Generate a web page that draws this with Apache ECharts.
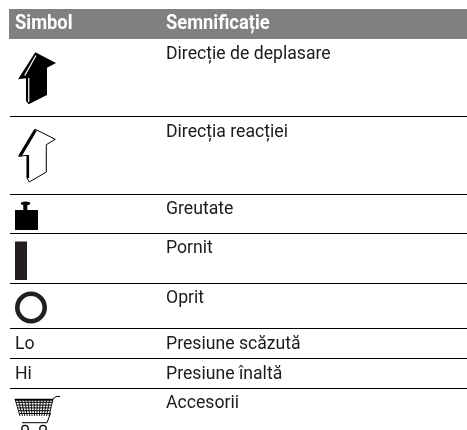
<!DOCTYPE html>
<html><head><meta charset="utf-8">
<style>html,body{margin:0;padding:0;background:#fff}#c{width:467px;height:430px}</style>
<script src="https://cdn.jsdelivr.net/npm/echarts@6/dist/echarts.min.js"></script>
</head><body><div id="c"></div>
<script>
const headers = ["Simbol", "Semnificație"];
const meanings = ["Direcție de deplasare", "Direcția reacției", "Greutate", "Pornit", "Oprit", "Presiune scăzută", "Presiune înaltă", "Accesorii"];
const symbolLabels = ["", "", "", "", "", "Lo", "Hi", ""];

// layout of the table (pixels)
const rowBottoms = [116, 194, 233, 283, 328, 358, 388];
const textY = [54.5, 132, 209, 248, 298, 344.5, 374, 403];
const colX = [15, 166];
const FONT = 'Roboto, sans-serif';
const INK = '#1c1a1b';

const g = [];
function text(s, x, y, size, color, weight, sx) {
  g.push({type:'text', x:x, y:y, scaleX:sx, style:{text:s, x:0, y:0, fill:color, font:(weight||'normal')+' '+size+'px '+FONT, textVerticalAlign:'middle', textAlign:'left'}});
}
function poly(points, fill, stroke, lw) {
  g.push({type:'polygon', shape:{points:points}, style:{fill:fill||'none', stroke:stroke||'none', lineWidth:lw||0}});
}
function line(points, stroke, lw) {
  g.push({type:'polyline', shape:{points:points}, style:{fill:'none', stroke:stroke, lineWidth:lw}});
}

// header
g.push({type:'rect', shape:{x:9, y:9, width:458, height:30}, style:{fill:'#808080'}});
text(headers[0], colX[0], 24, 19.5, '#fff', 'bold', 0.94);
text(headers[1], colX[1], 24, 19.5, '#fff', 'bold', 0.94);

// rules
rowBottoms.forEach(y => g.push({type:'line', shape:{x1:10, y1:y+0.5, x2:467, y2:y+0.5}, style:{stroke:'#000', lineWidth:1}}));

// text
meanings.forEach((m, i) => text(m, colX[1], textY[i], 18, INK, 'normal', 0.98));
symbolLabels.forEach((m, i) => { if (m) text(m, colX[0], textY[i], 18, INK, 'normal', 0.98); });

// direction arrow (filled)
poly([[35.3,52.3],[56,63],[47,67.7],[47,95],[28.7,104.3],[26,101],[26,78.3],[18,79.3]], '#000');
line([[36,55.5],[24.7,75.5]], '#eee', 1.4);
line([[28.7,78],[28.7,102]], '#ddd', 1.4);

// reaction arrow (outline)
poly([[35.3,129.3],[55.3,139.3],[46.3,144.7],[46.3,172],[29.3,182],[27,178],[27,155.3],[18.7,156.3]], '#fff', '#000', 1);
line([[35.5,130],[20,156]], '#000', 3.2);
line([[28,155],[28,178]], '#000', 2.2);

// weight
g.push({type:'rect', shape:{x:15, y:210, width:23, height:20}, style:{fill:'#000'}});
g.push({type:'rect', shape:{x:23.3, y:204, width:4, height:6}, style:{fill:'#000'}});
g.push({type:'ellipse', shape:{cx:25.5, cy:203.5, rx:4.8, ry:1.9}, style:{fill:'#000'}});

// on
g.push({type:'rect', shape:{x:15, y:241.5, width:12, height:38.5}, style:{fill:'#231f20'}});

// off
g.push({type:'circle', shape:{cx:31, cy:307.5, r:13.7}, style:{fill:'none', stroke:'#231f20', lineWidth:4.6}});

// cart
const cartTop = 399.5, cartBottom = 416;
poly([[15,399],[53,399],[49,416],[20,416]], '#fff');
line([[15,399.7],[53,399.7]], '#000', 2);
for (let i = 1; i <= 5; i++) { const y = cartTop + i*2.8; const t = (y-399)/17;
  line([[15+5*t,y],[53-4*t,y]], '#000', 1); }
for (let i = 0; i <= 12; i++) { const f = i/12;
  line([[15+38*f,399],[20+29*f,416]], '#000', 0.9); }
line([[53,399],[56,396.5],[60,396.5]], '#000', 1);
line([[50.6,413],[47,422.7],[22,422.7]], '#000', 1);
g.push({type:'circle', shape:{cx:25, cy:428.5, r:3.2}, style:{fill:'none', stroke:'#000', lineWidth:1.3}});
g.push({type:'circle', shape:{cx:43, cy:428.5, r:3.2}, style:{fill:'none', stroke:'#000', lineWidth:1.3}});

const chart = echarts.init(document.getElementById('c'), null, {renderer:'canvas'});
chart.setOption({animation:false, backgroundColor:'#fff', graphic:{elements:g}});
</script></body></html>
